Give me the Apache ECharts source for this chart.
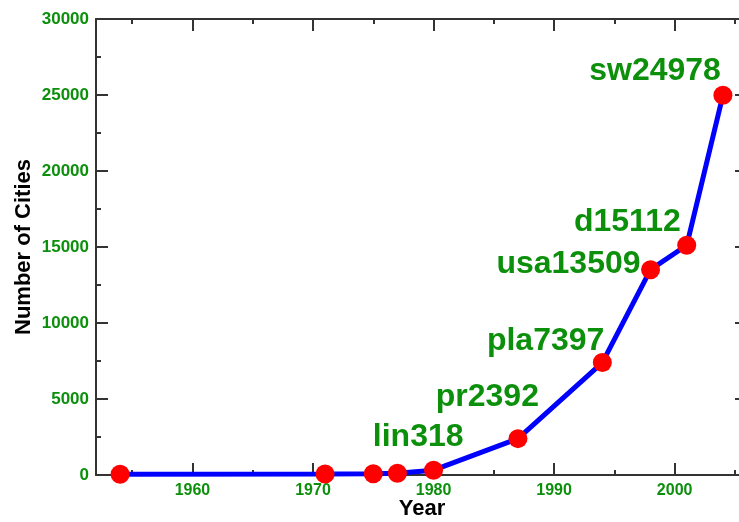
<!DOCTYPE html>
<html>
<head>
<meta charset="utf-8">
<script src="https://cdn.jsdelivr.net/npm/echarts@6/dist/echarts.min.js"></script>
<style>html,body{margin:0;padding:0;background:#fff}#c{width:739px;height:522px}</style>
</head>
<body>
<div id="c"></div>
<script>
// ---- data ----
const years = [1954, 1971, 1975, 1977, 1980, 1987, 1994, 1998, 2001, 2004];
const cities = [49, 64, 80, 120, 318, 2392, 7397, 13509, 15112, 24978];
const instanceNames = ['', '', '', '', 'lin', 'pr', 'pla', 'usa', 'd', 'sw'];
const xMajorTicks = [1960, 1970, 1980, 1990, 2000];
const xMinorTicks = [1955, 1965, 1975, 1985, 1995, 2005];
const yTickStep = 5000;
const xTitle = 'Year';
const yTitle = 'Number of Cities';

// ---- label placement (style, not data): right edge / vertical centre relative to the point ----
const labelOffsets = [null, null, null, null, [30, -33], [21, -41], [2, -21], [-10, -5], [-6, -23], [-2, -24]];

const GREEN = '#0c900c';
const AX = '#333333';
const FONT = 'Liberation Sans, Arial, Helvetica, sans-serif';
const SYM = 19;

const seriesData = years.map((y, i) => {
  const item = { value: [y, cities[i]] };
  if (instanceNames[i]) {
    const o = labelOffsets[i];
    item.label = {
      show: true,
      formatter: instanceNames[i] + cities[i],
      position: [SYM / 2 + o[0], SYM / 2 + o[1]],
      align: 'right',
      verticalAlign: 'middle',
      color: GREEN,
      fontSize: 32,
      fontWeight: 'bold',
      fontFamily: FONT
    };
  }
  return item;
});

const plain = v => String(v);
const xBase = { type: 'value', min: 1952, max: 2006, splitLine: { show: false } };
const titleStyle = { fill: '#000', fontSize: 22, fontWeight: 'bold', fontFamily: FONT, align: 'center', verticalAlign: 'middle' };
const chart = echarts.init(document.getElementById('c'), null, { renderer: 'canvas' });
chart.setOption({
  animation: false,
  backgroundColor: '#ffffff',
  grid: { left: 96, right: -8, top: 19, bottom: 47, containLabel: false, outerBoundsMode: 'none' },
  graphic: [
    { type: 'text', x: 422, y: 509, style: Object.assign({ text: xTitle }, titleStyle) },
    { type: 'text', x: 24, y: 247, rotation: Math.PI / 2, style: Object.assign({ text: yTitle }, titleStyle) }
  ],
  xAxis: [
    Object.assign({}, xBase, {
      position: 'bottom',
      axisLine: { show: true, lineStyle: { color: AX, width: 2 } },
      axisTick: { show: true, inside: true, length: 12, lineStyle: { color: AX, width: 2 }, customValues: xMajorTicks },
      axisLabel: { show: true, customValues: xMajorTicks, formatter: plain, color: GREEN, fontSize: 16, fontWeight: 'bold', fontFamily: FONT, margin: 8 }
    }),
    Object.assign({}, xBase, {
      position: 'bottom',
      axisLine: { show: false },
      axisTick: { show: true, inside: true, length: 5, lineStyle: { color: AX, width: 2 }, customValues: xMinorTicks },
      axisLabel: { show: false }
    }),
    Object.assign({}, xBase, {
      position: 'top',
      axisLine: { show: true, lineStyle: { color: AX, width: 2 } },
      axisTick: { show: true, inside: true, length: 12, lineStyle: { color: AX, width: 2 }, customValues: xMajorTicks },
      axisLabel: { show: false }
    }),
    Object.assign({}, xBase, {
      position: 'top',
      axisLine: { show: false },
      axisTick: { show: true, inside: true, length: 5, lineStyle: { color: AX, width: 2 }, customValues: xMinorTicks },
      axisLabel: { show: false }
    })
  ],
  yAxis: [
    {
      type: 'value', min: 0, max: 30000, interval: yTickStep, position: 'left',
      splitLine: { show: false },
      axisLine: { show: true, lineStyle: { color: AX, width: 2 } },
      axisTick: { show: true, inside: true, length: 12, lineStyle: { color: AX, width: 2 } },
      minorTick: { show: true, splitNumber: 2, length: 5, lineStyle: { color: AX, width: 2 } },
      minorSplitLine: { show: false },
      axisLabel: { formatter: plain, color: GREEN, fontSize: 17, fontWeight: 'bold', fontFamily: FONT, margin: 7 }
    },
    {
      type: 'value', min: 0, max: 30000, interval: yTickStep, position: 'right',
      splitLine: { show: false },
      axisLine: { show: true, lineStyle: { color: AX, width: 2 } },
      axisTick: { show: true, inside: true, length: 12, lineStyle: { color: AX, width: 2 } },
      minorTick: { show: true, splitNumber: 2, length: 5, lineStyle: { color: AX, width: 2 } },
      axisLabel: { show: false }
    }
  ],
  series: [{
    type: 'line',
    xAxisIndex: 0, yAxisIndex: 0,
    data: seriesData,
    lineStyle: { color: '#0000ff', width: 5 },
    itemStyle: { color: '#ff0000' },
    symbol: 'circle',
    symbolSize: SYM,
    showAllSymbol: true,
    label: { show: false },
    z: 5
  }]
});
</script>
</body>
</html>
